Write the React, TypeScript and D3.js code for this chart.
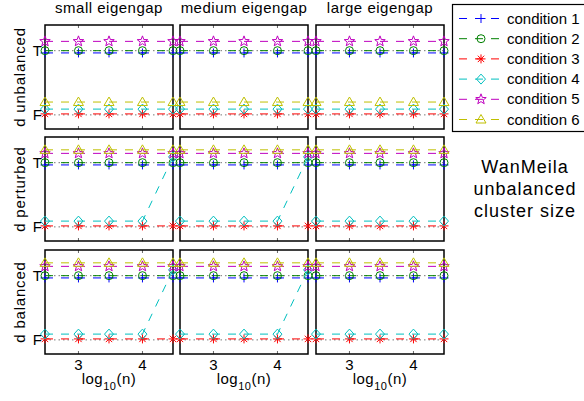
import * as d3 from 'd3'

const nValues = [300, 1000, 3000, 10000, 30000]
const xTicks = [3, 4]
const colTitles = ['small eigengap', 'medium eigengap', 'large eigengap']
const rowLabels = ['d unbalanced', 'd perturbed', 'd balanced']
const conditions = ['condition 1', 'condition 2', 'condition 3', 'condition 4', 'condition 5', 'condition 6']
const colors = ['#0000ff', '#008000', '#ff0000', '#00bfbf', '#bf00bf', '#bfbf00']
const markers = ['plus', 'circle', 'asterisk', 'diamond', 'star', 'triangle']
// small vertical jitter so overlapping conditions stay visible
const offsets = [-0.035, 0, 0.015, 0.09, 0.145, 0.2]

// [column][condition][n]  1 = T, 0 = F
const unbalanced = [
  [[1, 1, 1, 1, 1], [1, 1, 1, 1, 1], [0, 0, 0, 0, 0], [0, 0, 0, 0, 0], [1, 1, 1, 1, 1], [0, 0, 0, 0, 0]],
  [[1, 1, 1, 1, 1], [1, 1, 1, 1, 1], [0, 0, 0, 0, 0], [0, 0, 0, 0, 0], [1, 1, 1, 1, 1], [0, 0, 0, 0, 0]],
  [[1, 1, 1, 1, 1], [1, 1, 1, 1, 1], [0, 0, 0, 0, 0], [0, 0, 0, 0, 0], [1, 1, 1, 1, 1], [0, 0, 0, 0, 0]],
]
const perturbed = [
  [[1, 1, 1, 1, 1], [1, 1, 1, 1, 1], [0, 0, 0, 0, 0], [0, 0, 0, 0, 1], [1, 1, 1, 1, 1], [1, 1, 1, 1, 1]],
  [[1, 1, 1, 1, 1], [1, 1, 1, 1, 1], [0, 0, 0, 0, 0], [0, 0, 0, 0, 1], [1, 1, 1, 1, 1], [1, 1, 1, 1, 1]],
  [[1, 1, 1, 1, 1], [1, 1, 1, 1, 1], [0, 0, 0, 0, 0], [0, 0, 0, 0, 0], [1, 1, 1, 1, 1], [1, 1, 1, 1, 1]],
]
const balanced = [
  [[1, 1, 1, 1, 1], [1, 1, 1, 1, 1], [0, 0, 0, 0, 0], [0, 0, 0, 0, 1], [1, 1, 1, 1, 1], [1, 1, 1, 1, 1]],
  [[1, 1, 1, 1, 1], [1, 1, 1, 1, 1], [0, 0, 0, 0, 0], [0, 0, 0, 0, 1], [1, 1, 1, 1, 1], [1, 1, 1, 1, 1]],
  [[1, 1, 1, 1, 1], [1, 1, 1, 1, 1], [0, 0, 0, 0, 0], [0, 0, 0, 0, 0], [1, 1, 1, 1, 1], [1, 1, 1, 1, 1]],
]
const rows = [unbalanced, perturbed, balanced]
const sideNote = ['WanMeila', 'unbalanced', 'cluster size']

const W = 584
const H = 401
const panelX = [45, 180, 316]
const panelY = [25, 137, 250]
const pw = 128
const ph = 104
const font = 'Liberation Sans, Arial, Helvetica, sans-serif'

const x = d3.scaleLinear().domain([Math.log10(300), Math.log10(30000)]).range([0, pw])
const y = d3.scaleLinear().domain([-0.22, 1.4]).range([ph, 0])

function markerPath(kind: string) {
  const p = d3.path()
  if (kind === 'plus') {
    p.moveTo(-4.5, 0); p.lineTo(4.5, 0); p.moveTo(0, -4.5); p.lineTo(0, 4.5)
  } else if (kind === 'circle') {
    p.moveTo(4, 0); p.arc(0, 0, 4, 0, Math.PI * 2)
  } else if (kind === 'asterisk') {
    const d = 3.2
    p.moveTo(-4.5, 0); p.lineTo(4.5, 0); p.moveTo(0, -4.5); p.lineTo(0, 4.5)
    p.moveTo(-d, -d); p.lineTo(d, d); p.moveTo(-d, d); p.lineTo(d, -d)
  } else if (kind === 'diamond') {
    p.moveTo(0, -5); p.lineTo(4.5, 0); p.lineTo(0, 5); p.lineTo(-4.5, 0); p.closePath()
  } else if (kind === 'star') {
    for (let i = 0; i < 10; i++) {
      const r = i % 2 === 0 ? 5.5 : 2.3
      const a = -Math.PI / 2 + (i * Math.PI) / 5
      if (i === 0) p.moveTo(r * Math.cos(a), r * Math.sin(a))
      else p.lineTo(r * Math.cos(a), r * Math.sin(a))
    }
    p.closePath()
  } else {
    p.moveTo(0, -5); p.lineTo(5, 3.5); p.lineTo(-5, 3.5); p.closePath()
  }
  return p.toString()
}

const line = d3.line<number>()

function Panel({ r, c }: { r: number; c: number }) {
  const data = rows[r][c]
  return (
    <g transform={`translate(${panelX[c]},${panelY[r]})`}>
      <rect width={pw} height={ph} fill='#fff' stroke='#000' strokeWidth={1.5} />
      {xTicks.map(t => (
        <g key={t}>
          <line x1={x(t)} x2={x(t)} y1={ph} y2={ph - 3} stroke='#000' strokeWidth={0.6} />
          <line x1={x(t)} x2={x(t)} y1={0} y2={3} stroke='#000' strokeWidth={0.6} />
        </g>
      ))}
      {[0, 1].map(v => (
        <line key={v} x1={0} x2={pw} y1={y(v)} y2={y(v)} stroke='#777' strokeWidth={1} strokeDasharray='1.5,3' />
      ))}
      {data.map((vals, k) => {
        const pts = vals.map((v, i) => [x(Math.log10(nValues[i])), y(v + offsets[k])] as [number, number])
        return (
          <g key={k}>
            <path d={line(pts) || ''} fill='none' stroke={colors[k]} strokeWidth={1} strokeDasharray='8,8' />
            {pts.map((pt, i) => (
              <path key={i} d={markerPath(markers[k])} transform={`translate(${pt[0]},${pt[1]})`}
                fill='none' stroke={colors[k]} strokeWidth={1} />
            ))}
          </g>
        )
      })}
      {r === 0 && (
        <text x={pw / 2} y={-12} textAnchor='middle' fontSize={15} letterSpacing={0.5}>{colTitles[c]}</text>
      )}
      {c === 0 && (
        <g fontSize={15}>
          <text x={-3} y={y(1) + 5} textAnchor='end'>T</text>
          <text x={-3} y={y(0) + 5} textAnchor='end'>F</text>
          <text transform={`translate(-20,${ph / 2}) rotate(-90)`} textAnchor='middle' letterSpacing={0.8}>{rowLabels[r]}</text>
        </g>
      )}
      {r === 2 && (
        <g fontSize={15}>
          {xTicks.map(t => (
            <text key={t} x={x(t)} y={ph + 16} textAnchor='middle'>{t}</text>
          ))}
          <text x={pw / 2} y={ph + 30} textAnchor='middle' letterSpacing={0.5}>
            log<tspan fontSize={11} dy={6}>10</tspan><tspan dy={-6}>(n)</tspan>
          </text>
        </g>
      )}
    </g>
  )
}

export default function App() {
  const legendY = d3.range(conditions.length).map(i => 18.5 + i * 20.2)
  return (
    <svg width={W} height={H} style={{ position: 'fixed', left: 0, top: 0, background: '#fff' }}
      fontFamily={font}>
      <rect width={W} height={H} fill='#fff' />
      {rows.map((_, r) => colTitles.map((_, c) => <Panel key={`${r}-${c}`} r={r} c={c} />))}
      <g>
        <rect x={452.5} y={4.5} width={140} height={127} fill='#fff' stroke='#000' strokeWidth={1.2} />
        {conditions.map((name, k) => (
          <g key={name} transform={`translate(0,${legendY[k]})`}>
            <line x1={459} x2={503} y1={0} y2={0} stroke={colors[k]} strokeWidth={1} strokeDasharray='8,8' />
            <path d={markerPath(markers[k])} transform='translate(481,0)' fill='none' stroke={colors[k]} strokeWidth={1} />
            <text x={507} y={5} fontSize={15}>{name}</text>
          </g>
        ))}
      </g>
      <g fontSize={18} letterSpacing={1} textAnchor='middle'>
        {sideNote.map((t, i) => (
          <text key={t} x={525} y={173 + i * 21.8}>{t}</text>
        ))}
      </g>
    </svg>
  )
}
